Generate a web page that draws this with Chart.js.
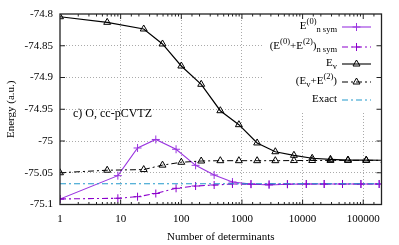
<!DOCTYPE html>
<html>
<head>
<meta charset="utf-8">
<script src="https://cdn.jsdelivr.net/npm/chart.js@4.4.0/dist/chart.umd.min.js"></script>
<style>
  html, body { margin: 0; padding: 0; background: #fff; }
  canvas { display: block; }
</style>
</head>
<body>
<canvas id="energy_chart" width="399" height="245"></canvas>
<script>
// Данные
const detsEv = [1, 6, 24, 49, 100, 213, 440, 890, 1780, 3550, 7200, 14400, 28800, 56000, 112000, 224000];
const energyEv = [-74.8043, -74.8131, -74.8236, -74.8472, -74.8819, -74.9107, -74.9523, -74.9743, -75.0031, -75.0169, -75.0225, -75.0272, -75.0288, -75.03, -75.0302, -75.0303];
const energyEvPt2 = [-75.05, -75.046, -75.045, -75.038, -75.0335, -75.0315, -75.031, -75.031, -75.031, -75.031, -75.0308, -75.0307, -75.0306, -75.0305, -75.0305, -75.0305];

const detsSym = [1, 9, 19, 38, 82, 172, 348, 697, 1410, 2800, 5620, 11500, 22700, 45500, 91600, 183000];
const energyE0 = [-75.0913, -75.0546, -75.011, -74.9976, -75.013, -75.0383, -75.0535, -75.0646, -75.0677, -75.0693, -75.0682, -75.0677, -75.0677, -75.0677, -75.0677, -75.0677];
const energyE0Pt2 = [-75.0913, -75.0902, -75.0877, -75.0827, -75.0745, -75.0709, -75.0693, -75.0677, -75.068, -75.068, -75.0678, -75.0677, -75.0677, -75.0677, -75.0677, -75.0677];

const exactEnergy = -75.0673;
const xRange = [1, 200000];
const yRange = [-75.1, -74.8];
const yStep = 0.05;

const FONT = '"Liberation Serif", "DejaVu Serif", serif';
const PURPLE = "#9a35e0";
const PURPLE_DARK = "#8c00cc";
const CYAN = "#2299cc";
const DASHDOT = [6, 3, 2, 3];

const toPoints = (xs, ys) => xs.map((x, i) => ({ x: x, y: ys[i] }));
const isPow10 = (v) => {
  const l = Math.log10(v);
  return Math.abs(l - Math.round(l)) < 1e-9;
};

// Подписи легенды: [текст, тип] — n обычный, sup верхний, sub нижний индекс
const legendItems = [
  { parts: [["E", "n"], ["(0)", "sup"], ["n sym", "sub"]], color: PURPLE, dash: [], marker: "cross" },
  { parts: [["(E", "n"], ["(0)", "sup"], ["+E", "n"], ["(2)", "sup"], [")", "n"], ["n sym", "sub"]], color: PURPLE_DARK, dash: DASHDOT, marker: "cross" },
  { parts: [["E", "n"], ["v", "sub"]], color: "#000", dash: [], marker: "triangle" },
  { parts: [["(E", "n"], ["v", "sub"], ["+E", "n"], ["(2)", "sup"], [")", "n"]], color: "#000", dash: DASHDOT, marker: "triangle" },
  { parts: [["Exact", "n"]], color: CYAN, dash: DASHDOT, marker: null },
];
const legendRows = [27, 47, 64, 82, 100];

function drawRich(c, parts, xRight, y) {
  const fonts = { n: "11px " + FONT, sup: "8.5px " + FONT, sub: "8.5px " + FONT };
  const dy = { n: 0, sup: -4.5, sub: 3.5 };
  let w = 0;
  parts.forEach((p) => {
    c.font = fonts[p[1]];
    w += c.measureText(p[0]).width;
  });
  let x = xRight - w;
  c.textAlign = "left";
  c.textBaseline = "middle";
  c.fillStyle = "#000";
  parts.forEach((p) => {
    c.font = fonts[p[1]];
    c.fillText(p[0], x, y + dy[p[1]]);
    x += c.measureText(p[0]).width;
  });
}

function drawMarker(c, kind, x, y, color) {
  c.save();
  c.strokeStyle = color;
  c.lineWidth = 1;
  c.setLineDash([]);
  c.beginPath();
  if (kind === "cross") {
    c.moveTo(x - 4, y);
    c.lineTo(x + 4, y);
    c.moveTo(x, y - 4);
    c.lineTo(x, y + 4);
  } else if (kind === "triangle") {
    c.moveTo(x, y - 4);
    c.lineTo(x + 3.5, y + 2);
    c.lineTo(x - 3.5, y + 2);
    c.closePath();
  }
  c.stroke();
  c.restore();
}

const decoPlugin = {
  id: "deco",
  beforeDatasetsDraw(chart) {
    // непрозрачный фон легенды поверх сетки
    const c = chart.ctx;
    const a = chart.chartArea;
    c.save();
    c.fillStyle = "#fff";
    c.fillRect(262, a.top, a.right - 262, 111 - a.top);
    c.restore();
  },
  afterDraw(chart) {
    const c = chart.ctx;
    const a = chart.chartArea;
    const xs = chart.scales.x;
    const ys = chart.scales.y;
    c.save();
    c.strokeStyle = "#222";
    c.lineWidth = 1;
    c.setLineDash([]);

    // засечки внутрь
    c.beginPath();
    xs.ticks.forEach((t) => {
      const px = xs.getPixelForValue(t.value);
      if (px <= a.left + 0.5 || px >= a.right - 0.5) return;
      const len = isPow10(t.value) ? 5 : 2.5;
      c.moveTo(px, a.bottom);
      c.lineTo(px, a.bottom - len);
      c.moveTo(px, a.top);
      c.lineTo(px, a.top + len);
    });
    ys.ticks.forEach((t) => {
      const py = ys.getPixelForValue(t.value);
      if (py <= a.top + 0.5 || py >= a.bottom - 0.5) return;
      c.moveTo(a.left, py);
      c.lineTo(a.left + 5, py);
      c.moveTo(a.right, py);
      c.lineTo(a.right - 5, py);
    });
    c.stroke();

    // рамка
    c.lineWidth = 1.3;
    c.strokeRect(a.left, a.top, a.right - a.left, a.bottom - a.top);

    // легенда
    legendItems.forEach((item, i) => {
      const y = legendRows[i];
      drawRich(c, item.parts, 337, y - 1);
      c.save();
      c.strokeStyle = item.color;
      c.lineWidth = 1.1;
      c.setLineDash(item.dash);
      c.beginPath();
      c.moveTo(342, y);
      c.lineTo(371, y);
      c.stroke();
      c.restore();
      if (item.marker) drawMarker(c, item.marker, 356.5, y, item.color);
    });

    // подпись
    c.font = "12px " + FONT;
    c.fillStyle = "#000";
    c.textAlign = "left";
    c.textBaseline = "middle";
    c.fillText("c) O, cc-pCVTZ", 73, 114);
    c.restore();
  },
};

const chartCtx = document.getElementById("energy_chart").getContext("2d");
const energyChart = new Chart(chartCtx, {
  type: "line",
  data: {
    datasets: [
      {
        label: "Exact",
        data: toPoints(xRange, [exactEnergy, exactEnergy]),
        borderColor: CYAN,
        borderWidth: 1.1,
        borderDash: DASHDOT,
        pointRadius: 0,
      },
      {
        label: "Ev+E2",
        data: toPoints(detsEv, energyEvPt2),
        borderColor: "#000",
        borderWidth: 1,
        borderDash: DASHDOT,
        pointStyle: "triangle",
        pointRadius: 4,
        pointBorderWidth: 1,
        pointBorderColor: "#000",
        pointBackgroundColor: "rgba(0,0,0,0)",
      },
      {
        label: "Ev",
        data: toPoints(detsEv, energyEv),
        borderColor: "#000",
        borderWidth: 1.2,
        pointStyle: "triangle",
        pointRadius: 4,
        pointBorderWidth: 1,
        pointBorderColor: "#000",
        pointBackgroundColor: "rgba(0,0,0,0)",
      },
      {
        label: "E0+E2 n sym",
        data: toPoints(detsSym, energyE0Pt2),
        borderColor: PURPLE_DARK,
        borderWidth: 1.1,
        borderDash: DASHDOT,
        pointStyle: "cross",
        pointRadius: 4,
        pointBorderWidth: 1,
        pointBorderColor: PURPLE_DARK,
      },
      {
        label: "E0 n sym",
        data: toPoints(detsSym, energyE0),
        borderColor: PURPLE,
        borderWidth: 1.1,
        pointStyle: "cross",
        pointRadius: 4,
        pointBorderWidth: 1,
        pointBorderColor: PURPLE,
      },
    ],
  },
  plugins: [decoPlugin],
  options: {
    responsive: false,
    animation: false,
    devicePixelRatio: 1,
    layout: { padding: { left: 0, right: 17.5, top: 14, bottom: 0 } },
    plugins: {
      legend: { display: false },
      tooltip: { enabled: false },
    },
    scales: {
      x: {
        type: "logarithmic",
        min: xRange[0],
        max: xRange[1],
        afterFit(s) {
          s.height = 40.5;
        },
        grid: {
          drawTicks: false,
          lineWidth: 1,
          color: (ctx) => {
            const v = ctx.tick && ctx.tick.value;
            if (!v || v <= xRange[0] || v >= xRange[1]) return "transparent";
            return isPow10(v) ? "#aaa" : "transparent";
          },
        },
        border: { display: false, dash: [1, 2] },
        ticks: {
          autoSkip: false,
          maxRotation: 0,
          padding: 8,
          color: "#000",
          font: { family: FONT, size: 11 },
          callback: (v) => (isPow10(v) ? String(v) : ""),
        },
        title: {
          display: true,
          text: "Number of determinants",
          color: "#000",
          font: { family: FONT, size: 11 },
          padding: { top: 0, bottom: 1.5 },
        },
      },
      y: {
        min: yRange[0],
        max: yRange[1],
        afterFit(s) {
          s.width = 60;
        },
        grid: {
          drawTicks: false,
          lineWidth: 1,
          color: (ctx) => {
            const v = ctx.tick && ctx.tick.value;
            if (v === undefined) return "transparent";
            if (Math.abs(v - yRange[0]) < 1e-9 || Math.abs(v - yRange[1]) < 1e-9) return "transparent";
            return "#aaa";
          },
        },
        border: { display: false, dash: [1, 2] },
        ticks: {
          stepSize: yStep,
          padding: 7,
          color: "#000",
          font: { family: FONT, size: 11 },
          callback: (v) => String(Number(v.toFixed(2))),
        },
        title: {
          display: true,
          text: "Energy (a.u.)",
          color: "#000",
          font: { family: FONT, size: 11 },
          padding: { top: 4.4, bottom: 0 },
        },
      },
    },
  },
});
</script>
</body>
</html>
